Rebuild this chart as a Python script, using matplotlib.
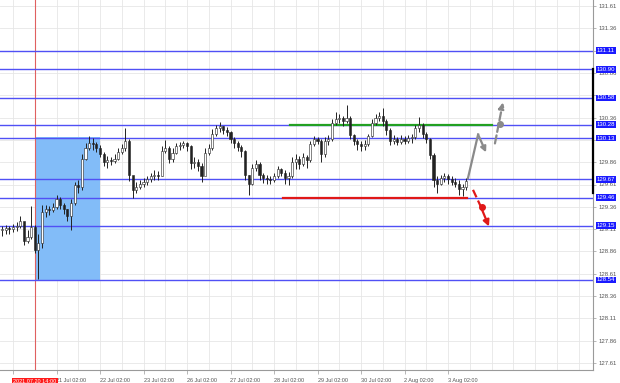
import numpy as np
import matplotlib
matplotlib.use("Agg")
import matplotlib.pyplot as plt
from matplotlib import transforms

plt.rcParams['font.family'] = ['Liberation Sans', 'DejaVu Sans']

# bar times in hours after 20 Jul 02:00 (2-hour bars)
hours = list(range(-6, 252, 2))

close = [129.10, 129.12, 129.11, 129.13, 129.15, 129.20, 128.98, 129.02, 129.13, 128.88,
         128.95, 129.30, 129.33, 129.32, 129.36, 129.45, 129.38, 129.33, 129.26, 129.40,
         129.60, 129.58, 129.90, 130.02, 130.08, 130.06, 130.02, 129.95, 129.86, 129.88,
         129.87, 129.90, 129.97, 130.02, 130.10, 129.72, 129.55, 129.58, 129.62, 129.64,
         129.67, 129.70, 129.72, 129.70, 129.98, 130.02, 129.90, 129.96, 130.04, 130.05,
         130.07, 130.04, 129.85, 129.86, 129.82, 129.70, 129.96, 130.02, 130.18, 130.24,
         130.26, 130.22, 130.20, 130.12, 130.08, 130.03, 129.98, 129.72, 129.62, 129.80,
         129.84, 129.72, 129.68, 129.67, 129.66, 129.70, 129.78, 129.74, 129.68, 129.70,
         129.86, 129.90, 129.84, 129.92, 129.88, 130.06, 130.12, 130.10, 129.95, 130.10,
         130.12, 130.30, 130.34, 130.36, 130.32, 130.36, 130.16, 130.10, 130.06, 130.04,
         130.06, 130.15, 130.30, 130.36, 130.38, 130.32, 130.22, 130.10, 130.12, 130.09,
         130.12, 130.10, 130.13, 130.14, 130.24, 130.28, 130.18, 130.12, 129.94, 129.66,
         129.62, 129.68, 129.70, 129.67, 129.64, 129.62, 129.56, 129.58, 129.65]
high = [129.15, 129.16, 129.15, 129.17, 129.19, 129.26, 129.18, 129.10, 129.37, 129.16,
        129.05, 129.38, 129.38, 129.37, 129.40, 129.49, 129.47, 129.40, 129.34, 129.45,
        129.64, 129.66, 129.95, 130.07, 130.15, 130.13, 130.09, 130.05, 129.97, 129.93,
        129.92, 129.95, 130.02, 130.06, 130.24, 130.12, 129.70, 129.64, 129.66, 129.68,
        129.71, 129.74, 129.77, 129.76, 130.04, 130.11, 130.04, 130.02, 130.08, 130.09,
        130.10, 130.09, 130.05, 129.92, 129.90, 129.85, 130.02, 130.06, 130.23, 130.28,
        130.31, 130.27, 130.25, 130.21, 130.14, 130.10, 130.05, 130.00, 129.72, 129.84,
        129.89, 129.86, 129.74, 129.72, 129.71, 129.74, 129.82, 129.80, 129.77, 129.75,
        129.92, 129.95, 129.93, 129.96, 129.94, 130.10, 130.15, 130.14, 130.12, 130.14,
        130.16, 130.34, 130.42, 130.40, 130.38, 130.50, 130.38, 130.18, 130.12, 130.10,
        130.11, 130.18, 130.34, 130.40, 130.42, 130.47, 130.34, 130.24, 130.16, 130.14,
        130.16, 130.15, 130.17, 130.18, 130.28, 130.37, 130.30, 130.20, 130.13, 129.96,
        129.70, 129.72, 129.74, 129.73, 129.70, 129.68, 129.66, 129.62, 129.68]
low = [129.03, 129.06, 129.05, 129.08, 129.09, 129.12, 128.93, 128.95, 129.00, 128.84,
       128.55, 128.90, 129.25, 129.27, 129.30, 129.33, 129.33, 129.28, 129.20, 129.10,
       129.38, 129.52, 129.55, 129.88, 130.00, 130.00, 129.97, 129.92, 129.82, 129.80,
       129.83, 129.85, 129.88, 129.95, 129.98, 129.65, 129.46, 129.52, 129.56, 129.58,
       129.61, 129.64, 129.66, 129.66, 129.70, 129.96, 129.85, 129.86, 129.95, 130.00,
       130.02, 129.99, 129.78, 129.80, 129.76, 129.64, 129.72, 129.94, 130.00, 130.15,
       130.20, 130.18, 130.15, 130.08, 130.02, 129.98, 129.92, 129.66, 129.49, 129.60,
       129.76, 129.66, 129.63, 129.62, 129.62, 129.64, 129.68, 129.70, 129.62, 129.60,
       129.68, 129.78, 129.78, 129.82, 129.80, 129.86, 130.04, 130.06, 129.86, 129.92,
       130.05, 130.10, 130.28, 130.30, 130.27, 130.30, 130.12, 130.05, 130.00, 129.99,
       130.00, 130.04, 130.14, 130.28, 130.32, 130.26, 130.16, 130.05, 130.06, 130.05,
       130.06, 130.06, 130.07, 130.08, 130.12, 130.20, 130.13, 130.08, 129.90, 129.58,
       129.52, 129.60, 129.64, 129.62, 129.60, 129.58, 129.49, 129.48, 129.55]

levels = [131.11, 130.90, 130.58, 130.28, 130.13, 129.67, 129.46, 129.15, 128.54]
tick_values = [131.61, 131.36, 131.11, 130.86, 130.61, 130.36, 130.11, 129.86, 129.61,
               129.36, 129.11, 128.86, 128.61, 128.36, 128.11, 127.86, 127.61]
day_ticks = [24, 48, 72, 96, 120, 144, 168, 192, 216, 240]
day_labels = ["21 Jul 02:00", "22 Jul 02:00", "23 Jul 02:00", "26 Jul 02:00", "27 Jul 02:00",
              "28 Jul 02:00", "29 Jul 02:00", "30 Jul 02:00", "2 Aug 02:00", "3 Aug 02:00"]

box_x = [12, 48]
box_y = [128.54, 130.14]
green_x = [152.8, 264.3]
green_y = 130.28
red_x = [149.0, 250.5]
red_y = 129.46

up_path_x = [251.0, 256.6, 261.0]
up_path_y = [129.68, 130.17, 129.97]
up_dash_x = [265.9, 270.3]
up_dash_y = [130.07, 130.53]
up_dot = (268.7, 130.29)
down_x = [253.8, 257.7, 262.6]
down_y = [129.55, 129.38, 129.14]
down_dot = (258.8, 129.36)

W, H = 620, 383
fig = plt.figure(figsize=(W / 100, H / 100), dpi=100)
ax = fig.add_axes([0, 13 / H, 593 / W, 370 / H])

px_per_hour = 1.8125
ax.set_xlim(-13 / px_per_hour, (593 - 13) / px_per_hour)
ax.set_ylim(131.61 - 364 / 89.25, 131.61 + 6 / 89.25)

# grid
for g in np.arange(-12, 330, 12):
    ax.axvline(g, color="#e6e6e6", lw=0.6, zorder=0)
for t in tick_values:
    ax.axhline(t, color="#e6e6e6", lw=0.6, zorder=0)

ax.fill_between(box_x, box_y[0], box_y[1], color="#82bcf8", lw=0, zorder=1)
ax.axvline(12, color="#e06060", lw=0.8, zorder=1.5)

for lv in levels:
    ax.axhline(lv, color="#5050f5", lw=1.0, zorder=2)

ax.plot(green_x, [green_y, green_y], color="#22a022", lw=1.6, zorder=3)
ax.plot(red_x, [red_y, red_y], color="#e01818", lw=1.6, zorder=3)

# candles
opens = [close[0]] + close[:-1]
x = np.array(hours)
ax.vlines(x, low, high, color="#222222", lw=0.7, zorder=4)
for xi, o, c in zip(hours, opens, close):
    bull = c >= o
    bottom = min(o, c)
    height = max(abs(c - o), 0.008)
    ax.bar(xi, height, bottom=bottom, width=1.2,
           color="white" if bull else "#222222", edgecolor="#222222", lw=0.4, zorder=5)

# forecast arrows
ax.plot(up_path_x[:-1], up_path_y[:-1], color="#8a8a8a", lw=1.6, zorder=6)
ax.annotate("", xy=(up_path_x[2], up_path_y[2]), xytext=(up_path_x[1], up_path_y[1]),
            arrowprops=dict(arrowstyle="-|>", color="#8a8a8a", lw=1.6, mutation_scale=8,
                            shrinkA=0, shrinkB=0), zorder=6)
ax.annotate("", xy=(up_dash_x[1], up_dash_y[1]), xytext=(up_dash_x[0], up_dash_y[0]),
            arrowprops=dict(arrowstyle="-|>", color="#8a8a8a", lw=1.6, ls="--", mutation_scale=9,
                            shrinkA=0, shrinkB=0), zorder=6)
ax.plot(*up_dot, "o", color="#8a8a8a", ms=4, zorder=7)
ax.plot(down_x[:2], down_y[:2], color="#e01818", lw=1.6, ls="--", zorder=6)
ax.annotate("", xy=(down_x[2], down_y[2]), xytext=(down_x[1], down_y[1]),
            arrowprops=dict(arrowstyle="-|>", color="#e01818", lw=1.6, mutation_scale=9,
                            shrinkA=0, shrinkB=0), zorder=6)
ax.plot(*down_dot, "o", color="#e01818", ms=4, zorder=7)

# axes styling
for s in ["top", "left"]:
    ax.spines[s].set_visible(False)
for s in ["right", "bottom"]:
    ax.spines[s].set_color("#9a9a9a")
    ax.spines[s].set_linewidth(0.8)

# gray price labels that sit fully under a level box are not visible on the chart
tick_text = ["" if min(abs(t - lv) for lv in levels) < 0.035 else f"{t:.2f}" for t in tick_values]
ax.yaxis.tick_right()
ax.set_yticks(tick_values)
ax.set_yticklabels(tick_text, fontsize=4.3, color="#555555")
ax.tick_params(axis="y", length=2, width=0.5, color="#9a9a9a", pad=2)
ax.set_xticks([0] + day_ticks)
ax.set_xticklabels([""] + day_labels, fontsize=4.0, color="#555555", ha="left")
ax.tick_params(axis="x", length=3, width=0.5, color="#9a9a9a", pad=2.5)

ytr = transforms.blended_transform_factory(ax.transAxes, ax.transData)
for lv in levels:
    ax.text(1.0065, lv, f"{lv:.2f}", transform=ytr, fontsize=4.3, color="white",
            va="center", ha="left", clip_on=False, zorder=10,
            bbox=dict(boxstyle="square,pad=0.15", fc="#1a1aff", ec="none"))

ax.plot([1, 1], [130.90, 129.52], transform=ytr, color="black", lw=1.6, clip_on=False, zorder=9)

ax.text(12, -0.025, "2021.07.20 14:00", transform=transforms.blended_transform_factory(ax.transData, ax.transAxes),
        fontsize=4.0, color="white", ha="center", va="top", clip_on=False, zorder=10,
        bbox=dict(boxstyle="square,pad=0.25", fc="#ff1a1a", ec="none"))

fig.savefig("out.png", dpi=100)
